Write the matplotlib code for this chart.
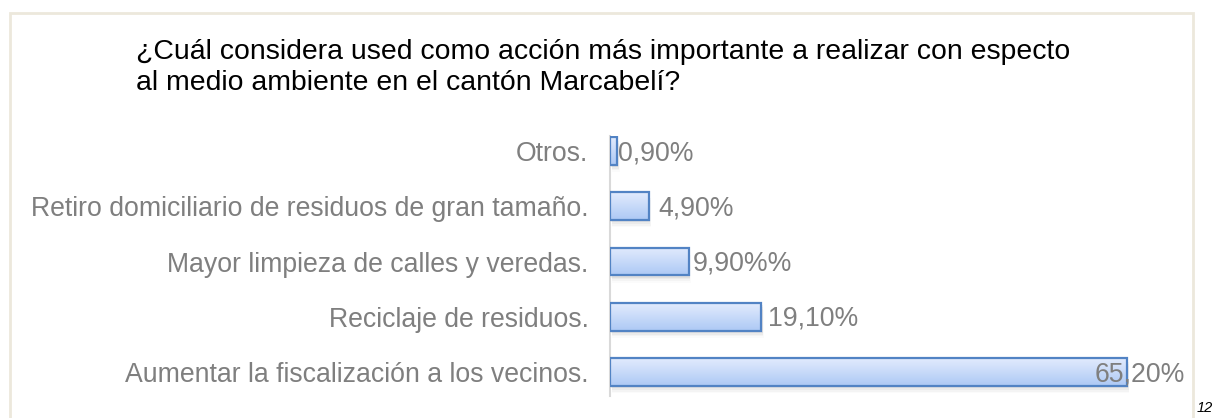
import matplotlib
matplotlib.use("Agg")
import matplotlib.pyplot as plt
import numpy as np
from matplotlib.patches import Rectangle
from matplotlib.colors import LinearSegmentedColormap

categories = [
    "Otros.",
    "Retiro domiciliario de residuos de gran tamaño.",
    "Mayor limpieza de calles y veredas.",
    "Reciclaje de residuos.",
    "Aumentar la fiscalización a los vecinos.",
]
values = [0.9, 4.9, 9.9, 19.1, 65.2]
value_labels = ["0,90%", "4,90%", "9,90%%", "19,10%", "65,20%"]
title_text = ("¿Cuál considera used como acción más importante a realizar con especto\n"
              "al medio ambiente en el cantón Marcabelí?")
page_number = "12"

W, H = 1213, 418
fig = plt.figure(figsize=(W / 100, H / 100), dpi=100)
plt.rcParams['font.family'] = ['Liberation Sans', 'DejaVu Sans']

# outer frame
fig.patches.append(Rectangle((10 / W, -0.05), (1193 - 10) / W, (H - 13) / H + 0.05,
                             transform=fig.transFigure, fill=False,
                             edgecolor="#ece8dc", linewidth=2))

ax_left, ax_right = 610, 1190
ax_top, ax_bot = 136, 396
ax = fig.add_axes([ax_left / W, 1 - ax_bot / H, (ax_right - ax_left) / W, (ax_bot - ax_top) / H])
ax.patch.set_alpha(0)

y = np.arange(len(categories))
bh = 0.5
bars = ax.barh(y, values, height=bh, color="none", edgecolor="#5283c4", linewidth=1.6, zorder=3)

cmap = LinearSegmentedColormap.from_list("g", ["#e2ebfd", "#adc9f5"])
grad = np.linspace(0, 1, 64).reshape(-1, 1)
for b in bars:
    x0, y0 = b.get_x(), b.get_y()
    w, h = b.get_width(), b.get_height()
    ax.imshow(grad, cmap=cmap, aspect="auto", extent=(x0, x0 + w, y0 + h, y0),
              zorder=2, interpolation="bilinear")
    # soft shadow
    for k, a in enumerate([0.10, 0.07, 0.05, 0.03]):
        ax.add_patch(Rectangle((x0 + 0.15 + 0.05 * k, y0 + 0.04 + 0.03 * k), w, h,
                               facecolor="#808080", alpha=a, edgecolor="none", zorder=1))
ax.set_xlim(0, (ax_right - ax_left) / 7.93)
ax.set_ylim(4.43, -0.27)

ax.set_yticks(y)
ax.set_yticklabels(categories, fontsize=19.2, color="#7f7f7f")
ax.tick_params(axis="y", length=0, pad=15.5)
ax.set_xticks([])
for s in ["top", "right", "bottom"]:
    ax.spines[s].set_visible(False)
ax.spines["left"].set_color("#d9d9d9")
ax.spines["left"].set_linewidth(1.5)

offsets = [0.7, 6.5, 3, 5, -23]
for b, lab, off in zip(bars, value_labels, offsets):
    ax.annotate(lab, (b.get_width(), b.get_y() + b.get_height() / 2),
                xytext=(off, -1.5), textcoords="offset points",
                va="center", ha="left", fontsize=19.2, color="#7f7f7f", zorder=4)

fig.text(136 / W, 1 - 39 / H, title_text, fontsize=20.4, color="#000000",
         va="top", ha="left", linespacing=1.25)
fig.text(1197 / W, 1 - 408 / H, page_number, fontsize=10.5, style="italic",
         va="center", ha="left", color="#000000")

fig.savefig("out.png", dpi=100)
